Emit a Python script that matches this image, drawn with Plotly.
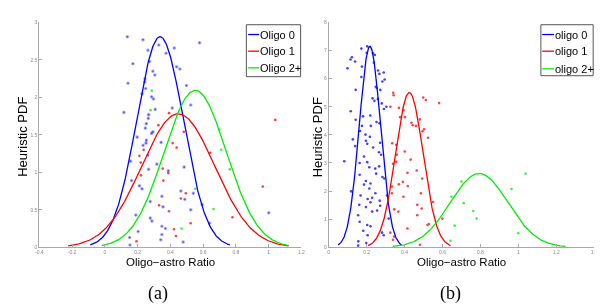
import numpy as np
import plotly.graph_objects as go

W, H = 603, 306

# ---------------- data ----------------
classes_a = ["Oligo 0", "Oligo 1", "Oligo 2+"]
classes_b = ["oligo 0", "oligo 1", "oligo 2+"]
colors = ["#0000ff", "#ff0000", "#00ee00"]

# fitted gaussian parameters (mean, std)
mean_a = [0.337, 0.448, 0.552]
std_a = [0.142, 0.224, 0.1905]
mean_b = [0.217, 0.425, 0.793]
std_b = [0.0558, 0.0725, 0.152]

# scatter samples, panel (a)
a0_x = [0.137, 0.233, 0.578, 0.329, 0.424, 0.263, 0.373, 0.273, 0.171, 0.438, 0.458, 0.293, 0.305,
        0.245, 0.243, 0.141, 0.498, 0.249, 0.227, 0.285, 0.297, 0.524, 0.411, 0.307, 0.116, 0.267,
        0.265, 0.253, 0.247, 0.293, 0.285, 0.197, 0.253, 0.251, 0.343, 0.233, 0.263, 0.157, 0.267,
        0.317, 0.387, 0.484, 0.163, 0.211, 0.227, 0.277, 0.348, 0.464, 0.488, 0.540, 0.594, 0.355,
        0.524, 0.189, 0.277, 0.287, 0.639, 0.348, 0.370, 0.203, 0.348, 0.151, 0.341, 0.478, 0.153, 1.0]
a0_y = [2.81, 2.77, 2.73, 2.70, 2.66, 2.63, 2.59, 2.48, 2.45, 2.41, 2.38, 2.35, 2.30,
        2.25, 2.21, 2.19, 2.16, 2.12, 2.05, 2.01, 1.98, 1.90, 1.86, 1.84, 1.80, 1.77,
        1.72, 1.65, 1.59, 1.54, 1.52, 1.47, 1.43, 1.39, 1.40, 1.36, 1.23, 1.15, 1.04,
        1.11, 1.02, 1.07, 0.89, 0.82, 0.78, 0.61, 0.68, 0.75, 0.64, 0.72, 0.57, 0.54,
        0.50, 0.43, 0.39, 0.35, 0.32, 0.28, 0.25, 0.21, 0.17, 0.13, 0.10, 0.07, 0.03, 0.46]
a1_x = [0.392, 0.327, 0.482, 1.04, 0.414, 0.438, 0.643, 0.237, 0.211, 0.219, 0.353, 0.221, 0.387,
        0.357, 0.964, 0.494, 0.464, 0.331, 0.392, 0.779, 0.524, 0.422, 0.434, 0.193]
a1_y = [1.79, 1.63, 1.54, 1.70, 1.39, 1.33, 1.26, 1.30, 1.22, 1.13, 1.05, 0.96, 0.99,
        0.89, 0.81, 0.72, 0.65, 0.56, 0.48, 0.40, 0.32, 0.24, 0.15, 0.08]
a2_x = [0.287, 0.279, 0.699, 0.711, 0.763, 0.552, 0.663, 0.468]
a2_y = [2.09, 1.83, 1.57, 1.30, 1.04, 0.78, 0.51, 0.25]

# scatter samples, panel (b)
b0_x = [0.203, 0.172, 0.122, 0.115, 0.139, 0.200, 0.233, 0.243, 0.238, 0.175, 0.099, 0.260, 0.290,
        0.267, 0.172, 0.295, 0.283, 0.248, 0.253, 0.142, 0.272, 0.231, 0.241, 0.259, 0.280, 0.304,
        0.291, 0.116, 0.181, 0.219, 0.142, 0.252, 0.268, 0.222, 0.175, 0.165, 0.194, 0.217, 0.127,
        0.196, 0.203, 0.271, 0.139, 0.234, 0.265, 0.276, 0.186,
        0.082, 0.163, 0.203, 0.214, 0.245, 0.266, 0.250, 0.163, 0.283, 0.293, 0.196, 0.220, 0.186,
        0.214, 0.118, 0.246, 0.168, 0.229, 0.205, 0.307, 0.269, 0.220, 0.271, 0.161, 0.196, 0.255,
        0.229, 0.155, 0.316, 0.163, 0.203, 0.220, 0.182, 0.281, 0.290, 0.205, 0.156, 0.198, 0.155]
b0_y = [7.15, 7.07, 6.76, 6.68, 6.61, 6.92, 6.90, 6.84, 6.57, 6.43, 6.37, 6.29, 6.22,
        6.17, 6.06, 5.97, 5.90, 5.71, 5.67, 5.60, 5.60, 5.30, 5.21, 5.28, 5.12, 5.00,
        4.92, 4.84, 4.66, 4.69, 4.54, 4.46, 4.41, 4.32, 4.32, 4.14, 4.01, 3.93, 3.84,
        3.79, 3.68, 3.72, 3.60, 3.55, 3.38, 3.29, 3.23,
        3.06, 3.00, 3.03, 2.85, 2.80, 2.88, 2.62, 2.58, 2.50, 2.45, 2.36, 2.27, 2.23,
        2.09, 1.99, 1.92, 1.84, 1.76, 1.72, 1.84, 1.66, 1.60, 1.48, 1.51, 1.43, 1.31,
        1.27, 1.14, 1.02, 0.91, 0.79, 0.75, 0.59, 0.52, 0.43, 0.43, 0.21, 0.15, 0.06]
b1_x = [0.340, 0.342, 0.325, 0.498, 0.512, 0.582, 0.394, 0.370, 0.377, 0.402, 0.481, 0.436, 0.443,
        0.460, 0.503, 0.495, 0.524, 0.335, 0.356, 0.401, 0.359,
        0.432, 0.356, 0.339, 0.464, 0.415, 0.493, 0.391, 0.370, 0.417, 0.333, 0.333, 0.394, 0.486,
        0.550, 0.467, 0.345, 0.367, 0.490, 0.467, 0.599, 0.528, 0.521, 0.415, 0.325, 0.345, 0.339, 0.481]
b1_y = [5.50, 5.41, 5.00, 5.33, 5.24, 5.13, 4.88, 4.96, 4.63, 4.63, 4.55, 4.43, 4.34,
        4.32, 4.20, 4.13, 3.90, 3.70, 3.65, 3.41, 3.29,
        3.12, 3.04, 2.97, 2.73, 2.65, 2.45, 2.33, 2.24, 2.18, 2.16, 1.92, 1.80, 1.92,
        1.61, 1.51, 1.35, 1.27, 1.38, 1.14, 1.02, 0.83, 0.79, 0.67, 0.52, 0.38, 0.27, 0.09]
b2_x = [1.038, 0.700, 0.964, 0.647, 0.712, 0.762, 0.780, 0.664, 0.999, 0.642]
b2_y = [2.62, 2.34, 2.07, 1.80, 1.57, 1.29, 1.02, 0.77, 0.50, 0.23]

# axis ticks
xticks_a = [-0.4, -0.2, 0, 0.2, 0.4, 0.6, 0.8, 1, 1.2]
yticks_a = [0, 0.5, 1, 1.5, 2, 2.5, 3]
xticks_b = [0, 0.2, 0.4, 0.6, 0.8, 1, 1.2, 1.4]
yticks_b = [0, 1, 2, 3, 4, 5, 6, 7, 8]
xtitle = "Oligo\u2212astro Ratio"
ytitle = "Heuristic PDF"
captions = ["(a)", "(b)"]

# ---------------- figure ----------------
fig = go.Figure()

def gauss_curve(m, s):
    x = np.linspace(m - 3 * s, m + 3 * s, 200)
    y = np.exp(-0.5 * ((x - m) / s) ** 2) / (s * np.sqrt(2 * np.pi))
    return x, y

panels = [
    ("x", "y", mean_a, std_a, [(a0_x, a0_y), (a1_x, a1_y), (a2_x, a2_y)]),
    ("x2", "y2", mean_b, std_b, [(b0_x, b0_y), (b1_x, b1_y), (b2_x, b2_y)]),
]
for xa, ya, means, stds, pts in panels:
    for i in range(3):
        px_, py_ = pts[i]
        fig.add_trace(go.Scatter(x=px_, y=py_, mode="markers", xaxis=xa, yaxis=ya,
                                 marker=dict(color=colors[i], size=2.6, line=dict(width=0)),
                                 opacity=0.75, showlegend=False, hoverinfo="skip"))
    for i in range(3):
        cx, cy = gauss_curve(means[i], stds[i])
        fig.add_trace(go.Scatter(x=cx, y=cy, mode="lines", xaxis=xa, yaxis=ya,
                                 line=dict(color=colors[i], width=1.3),
                                 showlegend=False, hoverinfo="skip"))

ydom = [65 / H, 294.3 / H]
xdom_a = [27.7 / W, 293.3 / W]
xdom_b = [321 / W, 590 / W]

axis_common = dict(showgrid=False, zeroline=False, showline=True, linecolor="#a8a8a8",
                   linewidth=1, ticks="inside", ticklen=3, tickcolor="#a8a8a8",
                   tickfont=dict(size=5, color="#888888", family="Liberation Sans"),
                   mirror=False)

fig.update_layout(
    width=W, height=H, margin=dict(l=0, r=0, t=0, b=0),
    paper_bgcolor="white", plot_bgcolor="white",
    xaxis=dict(domain=xdom_a, range=[-0.4, 1.2], tickvals=xticks_a,
               ticktext=[f"{v:g}" for v in xticks_a], anchor="y", **axis_common),
    yaxis=dict(domain=ydom, range=[0, 3], tickvals=yticks_a,
               ticktext=[f"{v:g}" for v in yticks_a], anchor="x", **axis_common),
    xaxis2=dict(domain=xdom_b, range=[0, 1.4], tickvals=xticks_b,
                ticktext=[f"{v:g}" for v in xticks_b], anchor="y2", **axis_common),
    yaxis2=dict(domain=ydom, range=[0, 8], tickvals=yticks_b,
                ticktext=[f"{v:g}" for v in yticks_b], anchor="x2", **axis_common),
)

xtitle_font = dict(family="Liberation Sans", size=11.5, color="black")
ytitle_font = dict(family="Liberation Sans", size=13, color="black")
legend_font = dict(family="Liberation Sans", size=11, color="black")

def px2x(p):
    return p / W

def px2y(p):
    return 1 - p / H

# axis titles
for cx in [160.5, 455.5]:
    fig.add_annotation(x=px2x(cx), y=px2y(256), xref="paper", yref="paper", text=xtitle,
                       showarrow=False, font=xtitle_font, xanchor="center", yanchor="middle")
for cx in [11, 310.5]:
    fig.add_annotation(x=px2x(cx), y=px2y(128.5), xref="paper", yref="paper", text=ytitle,
                       textangle=-90, showarrow=False, font=ytitle_font,
                       xanchor="center", yanchor="middle")
# captions
for cx, cap in zip([148, 444], captions):
    fig.add_annotation(x=px2x(cx), y=px2y(288), xref="paper", yref="paper", text=cap,
                       showarrow=False, font=dict(family="Liberation Serif", size=18, color="black"),
                       xanchor="center", yanchor="middle")

# legends (drawn as boxes, sample lines and text)
legend_specs = [
    (237.5, 292.5, 14, 67, 239.3, 250.5, [24, 41, 58], classes_a),
    (536, 589, 14, 66, 537.3, 549.3, [24, 41, 59], classes_b),
]
for x0, x1, y0, y1, lx0, lx1, rows, labels in legend_specs:
    fig.add_shape(type="rect", xref="paper", yref="paper",
                  x0=px2x(x0), x1=px2x(x1), y0=px2y(y0), y1=px2y(y1),
                  line=dict(color="#555555", width=1), fillcolor="white", layer="above")
    for i, r in enumerate(rows):
        fig.add_shape(type="line", xref="paper", yref="paper",
                      x0=px2x(lx0), x1=px2x(lx1), y0=px2y(r), y1=px2y(r),
                      line=dict(color=colors[i], width=1.3), layer="above")
        fig.add_annotation(x=px2x(lx1 - 1.5), y=px2y(r), xref="paper", yref="paper",
                           text=labels[i], showarrow=False, font=legend_font,
                           xanchor="left", yanchor="middle")

fig.write_html("out.html")
